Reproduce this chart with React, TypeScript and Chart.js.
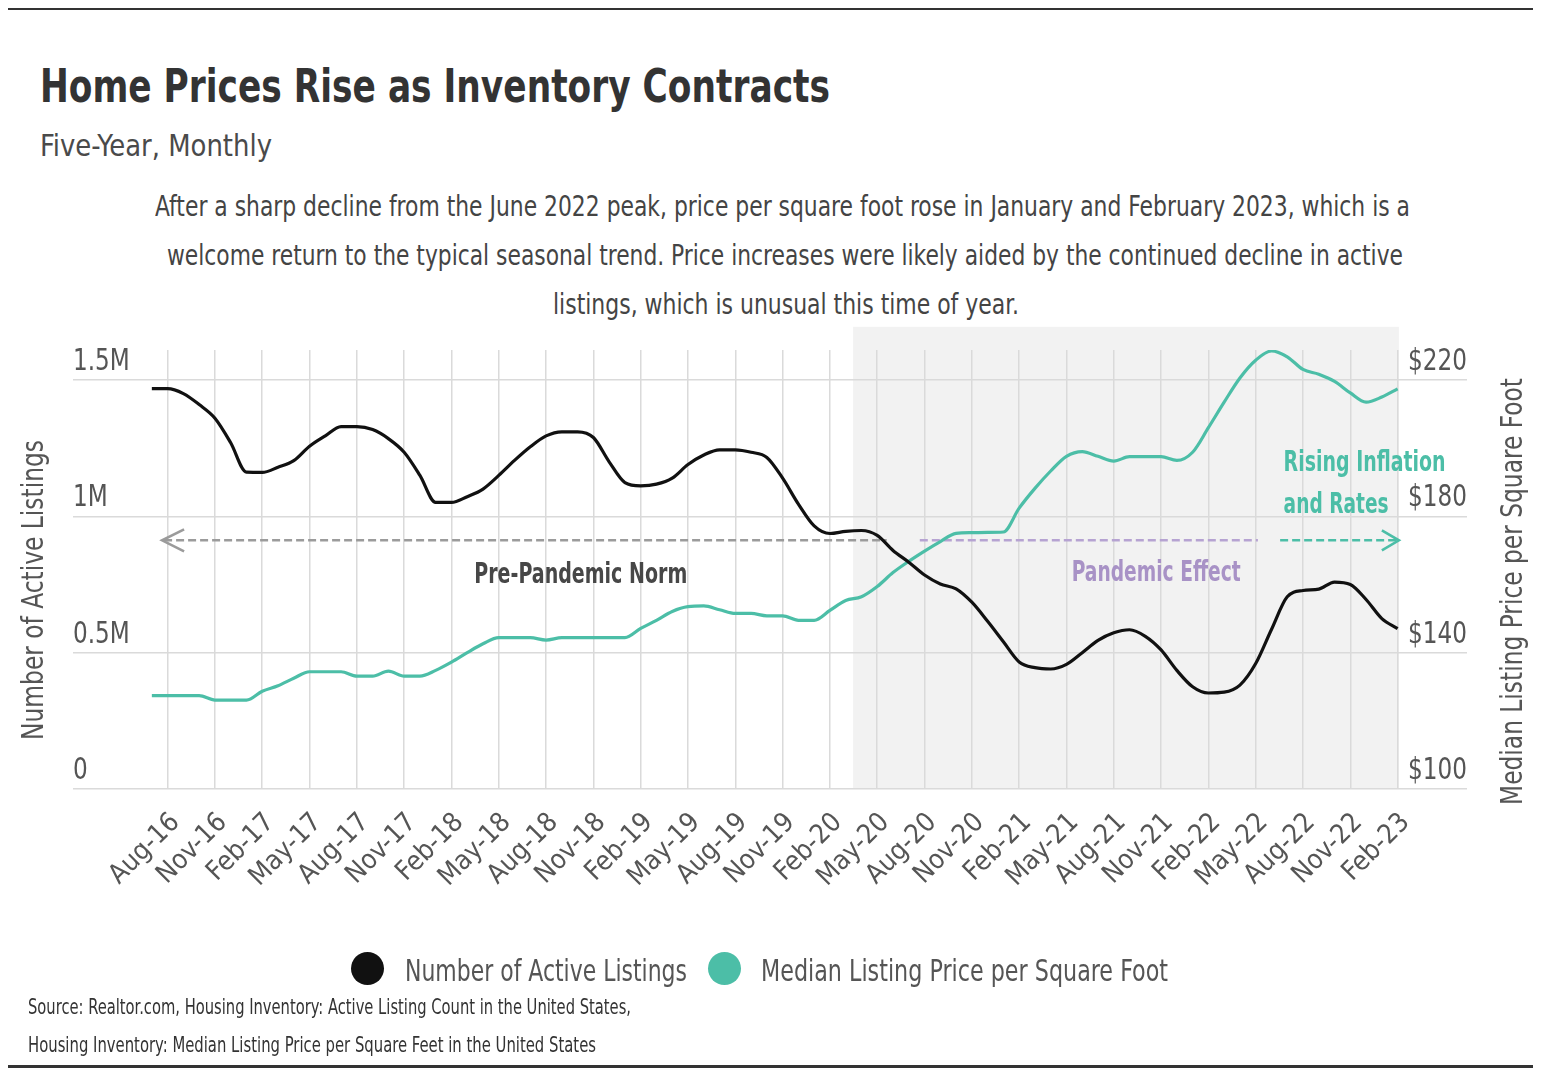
import React, { useEffect, useLayoutEffect, useRef } from 'react';
import { Chart, registerables } from 'chart.js';

Chart.register(...registerables);

const FONT = "'Liberation Sans Narrow', 'Arial Narrow', 'DejaVu Sans Condensed', 'Liberation Sans', sans-serif";

// ---------- data ----------
const monthLabels = [
  'Jul-16', 'Aug-16', 'Sep-16', 'Oct-16', 'Nov-16', 'Dec-16',
  'Jan-17', 'Feb-17', 'Mar-17', 'Apr-17', 'May-17', 'Jun-17', 'Jul-17', 'Aug-17', 'Sep-17', 'Oct-17', 'Nov-17', 'Dec-17',
  'Jan-18', 'Feb-18', 'Mar-18', 'Apr-18', 'May-18', 'Jun-18', 'Jul-18', 'Aug-18', 'Sep-18', 'Oct-18', 'Nov-18', 'Dec-18',
  'Jan-19', 'Feb-19', 'Mar-19', 'Apr-19', 'May-19', 'Jun-19', 'Jul-19', 'Aug-19', 'Sep-19', 'Oct-19', 'Nov-19', 'Dec-19',
  'Jan-20', 'Feb-20', 'Mar-20', 'Apr-20', 'May-20', 'Jun-20', 'Jul-20', 'Aug-20', 'Sep-20', 'Oct-20', 'Nov-20', 'Dec-20',
  'Jan-21', 'Feb-21', 'Mar-21', 'Apr-21', 'May-21', 'Jun-21', 'Jul-21', 'Aug-21', 'Sep-21', 'Oct-21', 'Nov-21', 'Dec-21',
  'Jan-22', 'Feb-22', 'Mar-22', 'Apr-22', 'May-22', 'Jun-22', 'Jul-22', 'Aug-22', 'Sep-22', 'Oct-22', 'Nov-22', 'Dec-22',
  'Jan-23', 'Feb-23',
];

const xTickLabels = [
  'Aug-16', 'Nov-16', 'Feb-17', 'May-17', 'Aug-17', 'Nov-17', 'Feb-18', 'May-18', 'Aug-18', 'Nov-18',
  'Feb-19', 'May-19', 'Aug-19', 'Nov-19', 'Feb-20', 'May-20', 'Aug-20', 'Nov-20', 'Feb-21', 'May-21',
  'Aug-21', 'Nov-21', 'Feb-22', 'May-22', 'Aug-22', 'Nov-22', 'Feb-23',
];

// Number of active listings, millions
const activeListings = [
  1.468, 1.468, 1.45, 1.41, 1.36, 1.27, 1.162, 1.161, 1.18, 1.204,
  1.257, 1.295, 1.329, 1.329, 1.318, 1.285, 1.235, 1.15, 1.051, 1.051,
  1.072, 1.1, 1.15, 1.205, 1.255, 1.295, 1.31, 1.31, 1.289, 1.2,
  1.124, 1.112, 1.118, 1.14, 1.19, 1.225, 1.244, 1.244, 1.235, 1.216,
  1.14, 1.045, 0.965, 0.937, 0.945, 0.948, 0.93, 0.875, 0.832, 0.785,
  0.752, 0.734, 0.685, 0.615, 0.54, 0.466, 0.445, 0.44, 0.457, 0.5,
  0.545, 0.573, 0.584, 0.56, 0.51, 0.435, 0.375, 0.352, 0.355, 0.381,
  0.46, 0.585, 0.705, 0.728, 0.733, 0.759, 0.75, 0.695, 0.625, 0.588,
];

// Median listing price per square foot, $
const pricePerSqft = [
  127.4, 127.4, 127.4, 127.4, 126.1, 126.1, 126.1, 128.7, 130.3, 132.5,
  134.4, 134.4, 134.4, 133.1, 133.1, 134.6, 133.1, 133.1, 134.8, 137.2,
  140.0, 142.6, 144.4, 144.4, 144.4, 143.7, 144.4, 144.4, 144.4, 144.4,
  144.4, 147.1, 149.5, 152.1, 153.5, 153.7, 152.6, 151.5, 151.5, 150.8,
  150.8, 149.5, 149.5, 152.4, 155.3, 156.4, 159.4, 163.5, 166.8, 169.8,
  172.6, 175.0, 175.2, 175.3, 175.4, 182.4, 188.2, 193.3, 197.6, 199.0,
  197.6, 196.2, 197.5, 197.5, 197.5, 196.4, 198.8, 206.0, 213.5, 220.6,
  225.8, 228.5, 226.8, 223.1, 221.7, 219.6, 216.2, 213.5, 215.0, 217.4,
];

const leftTickValues = [0, 0.5, 1, 1.5];
const leftTickLabels = ['0', '0.5M', '1M', '1.5M'];
const rightTickValues = [100, 140, 180, 220];
const rightTickLabels = ['$100', '$140', '$180', '$220'];
const seriesNames = ['Number of Active Listings', 'Median Listing Price per Square Foot'];

// annotation anchors in data units (x = month index, y = listings in millions)
const shadeRange = [44.47, 79.08];
const shadeTop = 1.695;
const arrowLevel = 0.912;
const preNormRange = [0.65, 46.6];
const pandemicRange = [48.7, 70.14];
const inflationRange = [71.55, 79.08];

// ---------- styles ----------
const BLACK = '#111111';
const TEAL = '#4cbea7';
const PURPLE = '#b6a3d2';
const PURPLE_TEXT = '#a892c6';
const GRID = '#dadada';

const X_MIN = -5;
const X_MAX = 83.4;
const Y_MAX = 1.61;
const Y1_MIN = 100;
const Y1_MAX = 100 + 120 * (Y_MAX / 1.5);
const TICK_SQUEEZE = 0.83;

function fitFill(ctx: CanvasRenderingContext2D, text: string, x: number, y: number, width: number, align: CanvasTextAlign) {
  const w = ctx.measureText(text).width;
  const s = w > 0 ? width / w : 1;
  ctx.save();
  ctx.translate(x, y);
  ctx.scale(s, 1);
  ctx.textAlign = align;
  ctx.fillText(text, 0, 0);
  ctx.restore();
}

function squeezeFill(ctx: CanvasRenderingContext2D, text: string, x: number, y: number, s: number, align: CanvasTextAlign) {
  ctx.save();
  ctx.translate(x, y);
  ctx.scale(s, 1);
  ctx.textAlign = align;
  ctx.fillText(text, 0, 0);
  ctx.restore();
}

function dashed(ctx: CanvasRenderingContext2D, xa: number, xb: number, y: number, color: string) {
  ctx.save();
  ctx.strokeStyle = color;
  ctx.lineWidth = 2.6;
  ctx.setLineDash([8, 4]);
  ctx.beginPath();
  ctx.moveTo(xa, y);
  ctx.lineTo(xb, y);
  ctx.stroke();
  ctx.restore();
}

function chevron(ctx: CanvasRenderingContext2D, tipX: number, y: number, dir: number, color: string, len: number, half: number) {
  ctx.save();
  ctx.strokeStyle = color;
  ctx.lineWidth = 2.6;
  ctx.setLineDash([]);
  ctx.beginPath();
  ctx.moveTo(tipX - dir * len, y - half);
  ctx.lineTo(tipX, y);
  ctx.lineTo(tipX - dir * len, y + half);
  ctx.stroke();
  ctx.restore();
}

const annotationPlugin = {
  id: 'annotations',
  beforeDraw(chart: any) {
    const { ctx, scales } = chart;
    const x = scales.x;
    const y = scales.y;
    const x0 = x.getPixelForValue(shadeRange[0]);
    const x1 = x.getPixelForValue(shadeRange[1]);
    const y0 = y.getPixelForValue(shadeTop);
    const y1 = y.getPixelForValue(0);
    ctx.save();
    ctx.fillStyle = '#f2f2f2';
    ctx.fillRect(x0, y0, x1 - x0, y1 - y0);
    ctx.restore();
  },
  beforeDatasetsDraw(chart: any) {
    const { ctx, scales } = chart;
    const x = scales.x;
    const yy = scales.y.getPixelForValue(arrowLevel);
    const a0 = x.getPixelForValue(preNormRange[0]);
    const a1 = x.getPixelForValue(preNormRange[1]);
    dashed(ctx, a0 + 2, a1, yy, '#9b9b9b');
    chevron(ctx, a0, yy, -1, '#9b9b9b', 22, 11);
    dashed(ctx, x.getPixelForValue(pandemicRange[0]), x.getPixelForValue(pandemicRange[1]), yy, PURPLE);
    const c0 = x.getPixelForValue(inflationRange[0]);
    const c1 = x.getPixelForValue(inflationRange[1]);
    dashed(ctx, c0, c1 - 2, yy, TEAL);
    chevron(ctx, c1, yy, 1, TEAL, 17, 10);
  },
  afterDatasetsDraw(chart: any) {
    const { ctx, scales } = chart;
    const x = scales.x;
    const y = scales.y;
    ctx.save();
    ctx.textBaseline = 'alphabetic';
    ctx.font = `700 28px ${FONT}`;
    ctx.fillStyle = '#474747';
    fitFill(ctx, 'Pre-Pandemic Norm', x.getPixelForValue(27.2), y.getPixelForValue(0.756), 213, 'center');
    ctx.fillStyle = PURPLE_TEXT;
    fitFill(ctx, 'Pandemic Effect', x.getPixelForValue(63.69), y.getPixelForValue(0.762), 169, 'center');
    ctx.fillStyle = TEAL;
    fitFill(ctx, 'Rising Inflation', x.getPixelForValue(71.77), y.getPixelForValue(1.168), 162, 'left');
    fitFill(ctx, 'and Rates', x.getPixelForValue(71.77), y.getPixelForValue(1.011), 105, 'left');
    ctx.restore();
  },
  afterDraw(chart: any) {
    const { ctx, scales, chartArea } = chart;
    const y = scales.y;
    const y1 = scales.y1;
    ctx.save();
    ctx.textBaseline = 'alphabetic';
    ctx.font = `400 31px ${FONT}`;
    ctx.fillStyle = '#555555';
    leftTickValues.forEach((v, i) => {
      squeezeFill(ctx, leftTickLabels[i], chartArea.left, y.getPixelForValue(v) - 10, TICK_SQUEEZE, 'left');
    });
    rightTickValues.forEach((v, i) => {
      squeezeFill(ctx, rightTickLabels[i], chartArea.right, y1.getPixelForValue(v) - 10, TICK_SQUEEZE, 'right');
    });
    ctx.font = `400 31px ${FONT}`;
    ctx.save();
    ctx.translate(43, 590);
    ctx.rotate(-Math.PI / 2);
    fitFill(ctx, 'Number of Active Listings', 0, 0, 300, 'center');
    ctx.restore();
    ctx.save();
    ctx.translate(1522, 591.5);
    ctx.rotate(-Math.PI / 2);
    fitFill(ctx, 'Median Listing Price per Square Foot', 0, 0, 427, 'center');
    ctx.restore();
    ctx.restore();
  },
};

type FitProps = { text: string; left: number; baseline: number; width: number; size: number; weight?: number; color: string };

function FitText({ text, left, baseline, width, size, weight = 400, color }: FitProps) {
  const ref = useRef<HTMLDivElement>(null);
  useLayoutEffect(() => {
    const el = ref.current;
    if (!el) return;
    const fit = () => {
      el.style.transform = 'none';
      const w = el.getBoundingClientRect().width;
      if (w > 0) el.style.transform = `scaleX(${width / w})`;
    };
    fit();
    const fonts = (document as any).fonts;
    if (fonts && fonts.ready) fonts.ready.then(fit);
  }, [text, width, size]);
  return (
    <div
      ref={ref}
      style={{
        position: 'absolute',
        left,
        top: baseline - 0.85 * size,
        width: 'max-content',
        fontFamily: FONT,
        fontSize: size,
        lineHeight: `${size}px`,
        fontWeight: weight,
        color,
        whiteSpace: 'nowrap',
        transformOrigin: '0 0',
      }}
    >
      {text}
    </div>
  );
}

const paragraphLines = [
  'After a sharp decline from the June 2022 peak, price per square foot rose in January and February 2023, which is a',
  'welcome return to the typical seasonal trend. Price increases were likely aided by the continued decline in active',
  'listings, which is unusual this time of year.',
];

export default function App() {
  const canvasRef = useRef<HTMLCanvasElement>(null);

  useEffect(() => {
    const canvas = canvasRef.current;
    if (!canvas) return;
    const gridOpts = { color: GRID, lineWidth: 1.5, drawTicks: false };
    const chart = new Chart(canvas, {
      type: 'line',
      data: {
        datasets: [
          {
            label: seriesNames[0],
            data: activeListings.map((v, i) => ({ x: i, y: v })),
            borderColor: BLACK,
            backgroundColor: BLACK,
            borderWidth: 3.2,
            pointRadius: 0,
            cubicInterpolationMode: 'monotone',
            yAxisID: 'y',
          },
          {
            label: seriesNames[1],
            data: pricePerSqft.map((v, i) => ({ x: i, y: v })),
            borderColor: TEAL,
            backgroundColor: TEAL,
            borderWidth: 3.2,
            pointRadius: 0,
            cubicInterpolationMode: 'monotone',
            yAxisID: 'y1',
          },
        ],
      },
      options: {
        animation: false,
        responsive: false,
        events: [],
        layout: { padding: { left: 73, right: 77, top: 350, bottom: 169 } },
        plugins: { legend: { display: false }, tooltip: { enabled: false } },
        scales: {
          x: {
            type: 'linear',
            min: X_MIN,
            max: X_MAX,
            afterBuildTicks: (s: any) => {
              s.ticks = xTickLabels.map((l) => ({ value: monthLabels.indexOf(l) }));
            },
            afterFit: (s: any) => {
              s.height = 120;
            },
            ticks: {
              autoSkip: false,
              maxRotation: 45,
              minRotation: 45,
              padding: 18,
              labelOffset: 8,
              color: '#555555',
              font: { family: FONT, size: 27 },
              callback: (v: any) => monthLabels[v as number],
            },
            grid: gridOpts,
            border: { display: false },
          },
          y: {
            type: 'linear',
            position: 'left',
            min: 0,
            max: Y_MAX,
            afterBuildTicks: (s: any) => {
              s.ticks = leftTickValues.map((v) => ({ value: v }));
            },
            afterFit: (s: any) => {
              s.width = 0;
            },
            ticks: { display: false },
            grid: gridOpts,
            border: { display: false },
          },
          y1: {
            type: 'linear',
            position: 'right',
            min: Y1_MIN,
            max: Y1_MAX,
            afterBuildTicks: (s: any) => {
              s.ticks = rightTickValues.map((v) => ({ value: v }));
            },
            afterFit: (s: any) => {
              s.width = 0;
            },
            ticks: { display: false },
            grid: { display: false },
            border: { display: false },
          },
        },
      } as any,
      plugins: [annotationPlugin],
    });
    return () => chart.destroy();
  }, []);

  return (
    <div style={{ position: 'absolute', left: 0, top: 0, width: 1544, height: 1078, overflow: 'hidden', background: '#fff' }}>
      <div style={{ position: 'absolute', left: 8, top: 8, width: 1525, height: 2, background: '#333' }} />
      <div style={{ position: 'absolute', left: 8, top: 1065, width: 1525, height: 3, background: '#333' }} />
      <FitText text="Home Prices Rise as Inventory Contracts" left={40} baseline={101.5} width={790} size={47} weight={700} color="#333333" />
      <FitText text="Five-Year, Monthly" left={40} baseline={156} width={232} size={31} color="#4a4a4a" />
      <FitText text={paragraphLines[0]} left={155} baseline={217} width={1255} size={29} color="#444444" />
      <FitText text={paragraphLines[1]} left={167} baseline={266} width={1236} size={29} color="#444444" />
      <FitText text={paragraphLines[2]} left={553} baseline={315} width={466} size={29} color="#444444" />
      <canvas ref={canvasRef} width={1544} height={1078} style={{ position: 'absolute', left: 0, top: 0, width: 1544, height: 1078 }} />
      <div style={{ position: 'absolute', left: 351, top: 952, width: 33, height: 33, borderRadius: '50%', background: BLACK }} />
      <FitText text={seriesNames[0]} left={405} baseline={981} width={282} size={31} color="#555555" />
      <div style={{ position: 'absolute', left: 708, top: 952, width: 33, height: 33, borderRadius: '50%', background: TEAL }} />
      <FitText text={seriesNames[1]} left={761} baseline={981} width={407} size={31} color="#555555" />
      <FitText text="Source:  Realtor.com, Housing Inventory: Active Listing Count in the United States," left={28} baseline={1015} width={603} size={21} color="#333333" />
      <FitText text="Housing Inventory: Median Listing Price per Square Feet in the United States" left={28} baseline={1053} width={568} size={21} color="#333333" />
    </div>
  );
}
